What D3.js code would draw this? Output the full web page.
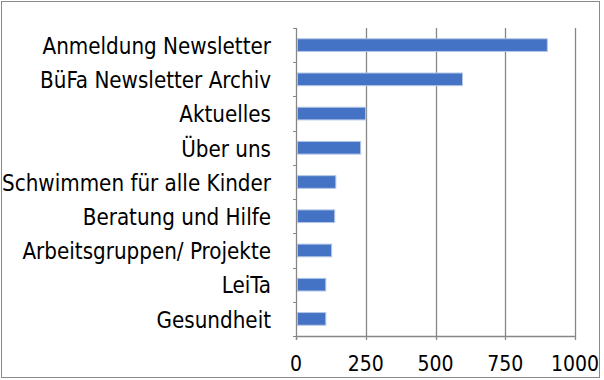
<!DOCTYPE html>
<html>
<head>
<meta charset="utf-8">
<script src="https://cdn.jsdelivr.net/npm/d3@7"></script>
<style>
  body { margin: 0; background: #fff; }
  svg text { font-family: "DejaVu Sans Condensed", "DejaVu Sans", sans-serif; fill: #000; }
</style>
</head>
<body>
<div id="chart"></div>
<script>
// page visits per section
var categories = ["Anmeldung Newsletter", "BüFa Newsletter Archiv", "Aktuelles", "Über uns",
  "Schwimmen für alle Kinder", "Beratung und Hilfe", "Arbeitsgruppen/ Projekte", "LeiTa", "Gesundheit"];
var visits = [899, 595, 248, 230, 141, 137, 126, 105, 105];
var xTicks = [0, 250, 500, 750, 1000];

var W = 604, H = 380;
var margin = {top: 28, right: 29, bottom: 44, left: 296};
var width = W - margin.left - margin.right,
    height = H - margin.top - margin.bottom;

var svg = d3.select("#chart").append("svg")
    .attr("width", W)
    .attr("height", H);

// outer frame
svg.append("rect")
    .attr("x", 1.5).attr("y", 1.5)
    .attr("width", 598).attr("height", 376)
    .style("fill", "none")
    .style("stroke", "#8a8a8a")
    .style("stroke-width", 1);

var g = svg.append("g")
    .attr("transform", "translate(" + margin.left + "," + margin.top + ")");

var x = d3.scaleLinear().domain([0, 1000]).range([0, width]);
var y = d3.scaleBand().domain(categories).range([0, height]).paddingInner(0.63).paddingOuter(0.315);
var yb = d3.scaleBand().domain(categories).range([0, height]); // full bands for the ticks

// gridlines
g.selectAll(".grid").data(xTicks.slice(1)).enter()
    .append("line")
    .attr("x1", function(d) { return Math.round(x(d)) + 0.5; })
    .attr("x2", function(d) { return Math.round(x(d)) + 0.5; })
    .attr("y1", 0).attr("y2", height)
    .style("stroke", "#878787")
    .style("stroke-width", 1.3);

// bars
g.selectAll(".bar").data(visits).enter()
    .append("rect")
    .attr("x", 1.5)
    .attr("y", function(d, i) { return y(categories[i]); })
    .attr("width", function(d) { return x(d) - 1; })
    .attr("height", y.bandwidth())
    .style("fill", "#4472c4")
    .style("stroke", "#b4c7e7")
    .style("stroke-width", 1);

// y axis: line with ticks at band edges
var yAxis = g.append("g");
yAxis.append("line")
    .attr("x1", 0.5).attr("x2", 0.5)
    .attr("y1", 0).attr("y2", height + 4)
    .style("stroke", "#878787").style("stroke-width", 1.3);
var edges = categories.map(function(c) { return yb(c); }).concat([height]);
yAxis.selectAll(".yt").data(edges).enter()
    .append("line")
    .attr("x1", -3).attr("x2", 0.5)
    .attr("y1", function(d) { return Math.round(d) + 0.5; })
    .attr("y2", function(d) { return Math.round(d) + 0.5; })
    .style("stroke", "#878787").style("stroke-width", 1);
yAxis.selectAll(".yl").data(categories).enter()
    .append("text")
    .attr("x", -25)
    .attr("y", function(d) { return yb(d) + yb.bandwidth() / 2 + 1; })
    .attr("dy", "0.35em")
    .attr("text-anchor", "end")
    .style("font-size", "22.2px")
    .text(function(d) { return d; });

// x axis
var xAxis = g.append("g").attr("transform", "translate(0," + height + ")");
xAxis.append("line")
    .attr("x1", 0).attr("x2", width + 0.5)
    .attr("y1", 0.5).attr("y2", 0.5)
    .style("stroke", "#878787").style("stroke-width", 1.3);
xAxis.selectAll(".xt").data(xTicks).enter()
    .append("line")
    .attr("x1", function(d) { return Math.round(x(d)) + 0.5; })
    .attr("x2", function(d) { return Math.round(x(d)) + 0.5; })
    .attr("y1", 0).attr("y2", 4)
    .style("stroke", "#878787").style("stroke-width", 1.3);
xAxis.selectAll(".xl").data(xTicks).enter()
    .append("text")
    .attr("x", function(d) { return x(d); })
    .attr("y", 35)
    .attr("text-anchor", "middle")
    .style("font-size", "21px")
    .text(function(d) { return d; });
</script>
</body>
</html>
